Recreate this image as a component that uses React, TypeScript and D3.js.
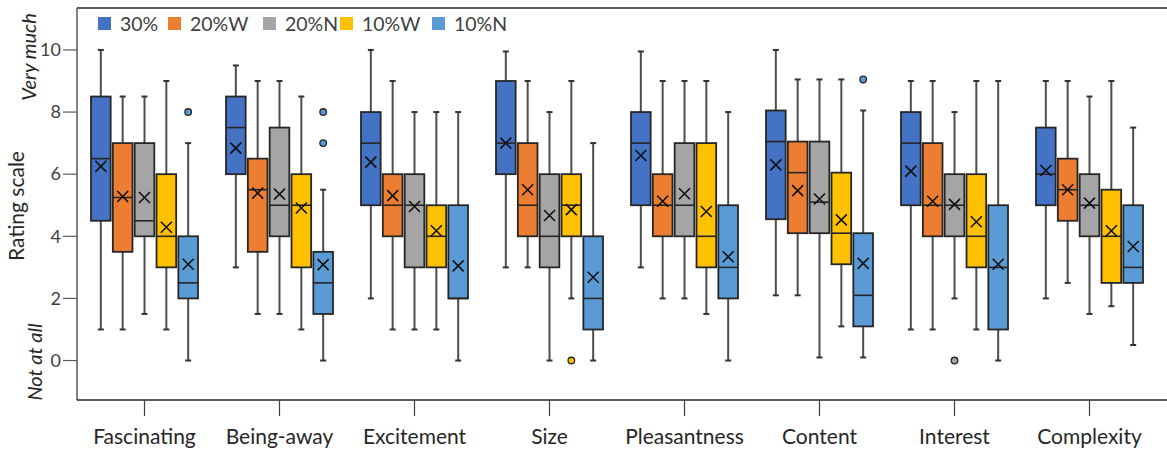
import * as d3 from 'd3'

const CATEGORIES = ['Fascinating', 'Being-away', 'Excitement', 'Size', 'Pleasantness', 'Content', 'Interest', 'Complexity']
const SERIES = ['30%', '20%W', '20%N', '10%W', '10%N']
const COLORS = ['#4472C4', '#ED7D31', '#A5A5A5', '#FFC000', '#5B9BD5']

// one row per series, one value per category
const WHISKER_HIGH = [
  [10, 9.5, 10, 9.95, 9.95, 10, 9, 9],
  [8.5, 9, 9, 9, 9, 9.05, 9, 9],
  [8.5, 9, 8, 8, 9, 9.05, 8, 8.5],
  [9, 8.5, 8, 9, 9, 9.05, 9, 9],
  [7, 5.5, 8, 7, 8, 8.05, 9, 7.5],
]
const Q3 = [
  [8.5, 8.5, 8, 9, 8, 8.05, 8, 7.5],
  [7, 6.5, 6, 7, 6, 7.05, 7, 6.5],
  [7, 7.5, 6, 6, 7, 7.05, 6, 6],
  [6, 6, 5, 6, 7, 6.05, 6, 5.5],
  [4, 3.5, 5, 4, 5, 4.1, 5, 5],
]
const MEDIAN = [
  [6.5, 7.5, 7, 7, 7, 7.05, 7, 6],
  [5.25, 5.5, 5, 5, 5, 6.05, 5, 5.5],
  [4.5, 5, 5, 4, 5, 5.1, 5, 5],
  [4, 5, 4, 5, 4, 4.1, 4, 4],
  [2.5, 2.5, 2, 2, 3, 2.1, 3, 3],
]
const Q1 = [
  [4.5, 6, 5, 6, 5, 4.55, 5, 5],
  [3.5, 3.5, 4, 4, 4, 4.1, 4, 4.5],
  [4, 4, 3, 3, 4, 4.1, 4, 4],
  [3, 3, 3, 4, 3, 3.1, 3, 2.5],
  [2, 1.5, 2, 1, 2, 1.1, 1, 2.5],
]
const WHISKER_LOW = [
  [1, 3, 2, 3, 3, 2.1, 1, 2],
  [1, 1.5, 1, 3, 2, 2.1, 1, 2.5],
  [1.5, 1.5, 1, 0, 2, 0.1, 2, 1.5],
  [1, 1, 1, 2, 1.5, 1.1, 1, 1.75],
  [0, 0, 0, 0, 0, 0.1, 0, 0.5],
]
const MEAN = [
  [6.25, 6.84, 6.39, 7.0, 6.6, 6.3, 6.1, 6.12],
  [5.28, 5.39, 5.31, 5.5, 5.13, 5.47, 5.13, 5.5],
  [5.25, 5.36, 4.96, 4.67, 5.37, 5.2, 5.03, 5.07],
  [4.29, 4.91, 4.18, 4.86, 4.8, 4.53, 4.47, 4.18],
  [3.1, 3.09, 3.05, 2.68, 3.34, 3.13, 3.1, 3.67],
]
// [series index, category index, value]
const OUTLIERS: [number, number, number][] = [
  [4, 0, 8],
  [4, 1, 8],
  [4, 1, 7],
  [3, 3, 0],
  [4, 5, 9.05],
  [2, 6, 0],
]
const Y_TICKS = [0, 2, 4, 6, 8, 10]

const W = 1167
const H = 450
const FONT = 'Lato, "Open Sans", sans-serif'
const LEGEND_X = [98, 168, 263, 340, 432]

export default function App() {
  const left = 77, top = 8, bottom = 400

  const x = d3.scaleBand().domain(CATEGORIES).range([left, 1157]).padding(0)
  const inner = d3.scaleBand().domain(SERIES).range([-53.5, 53.5]).paddingInner(0.1)
  const y = d3.scaleLinear().domain([-1.27, 11.35]).range([bottom, top])
  const bw = inner.bandwidth()
  const cap = 3

  const boxes = []
  SERIES.forEach((s, si) => {
    CATEGORIES.forEach((c, ci) => {
      const x0 = (x(c) as number) + x.bandwidth() / 2 + (inner(s) as number)
      const cx = x0 + bw / 2
      const mean = y(MEAN[si][ci])
      boxes.push(
        <g key={`${s}-${c}`}>
          <line x1={cx} x2={cx} y1={y(WHISKER_HIGH[si][ci])} y2={y(Q3[si][ci])} stroke="#4d4d4d" strokeWidth={2} />
          <line x1={cx} x2={cx} y1={y(Q1[si][ci])} y2={y(WHISKER_LOW[si][ci])} stroke="#4d4d4d" strokeWidth={2} />
          <line x1={cx - cap} x2={cx + cap} y1={y(WHISKER_HIGH[si][ci])} y2={y(WHISKER_HIGH[si][ci])} stroke="#333" strokeWidth={2} />
          <line x1={cx - cap} x2={cx + cap} y1={y(WHISKER_LOW[si][ci])} y2={y(WHISKER_LOW[si][ci])} stroke="#333" strokeWidth={2} />
          <rect x={x0} y={y(Q3[si][ci])} width={bw} height={y(Q1[si][ci]) - y(Q3[si][ci])}
            fill={COLORS[si]} stroke="#262626" strokeWidth={1.8} />
          <line x1={x0} x2={x0 + bw} y1={y(MEDIAN[si][ci])} y2={y(MEDIAN[si][ci])} stroke="#262626" strokeWidth={1.6} />
          <path d={`M${cx - 5.5},${mean - 5.5}L${cx + 5.5},${mean + 5.5}M${cx - 5.5},${mean + 5.5}L${cx + 5.5},${mean - 5.5}`}
            stroke="#111" strokeWidth={1.6} fill="none" />
        </g>
      )
    })
  })

  return (
    <svg width={W} height={H} style={{ position: 'fixed', left: 0, top: 0, background: '#fff' }} fontFamily={FONT}>
      {/* frame */}
      <line x1={left} x2={W} y1={top} y2={top} stroke="#262626" strokeWidth={1.5} />
      <line x1={left} x2={left} y1={top} y2={bottom} stroke="#595959" strokeWidth={1.5} />
      <line x1={left} x2={W} y1={bottom} y2={bottom} stroke="#262626" strokeWidth={1.5} />

      {/* y axis */}
      {Y_TICKS.map(t => (
        <g key={t}>
          <line x1={63} x2={left} y1={y(t)} y2={y(t)} stroke="#595959" strokeWidth={1.2} />
          <text x={61} y={y(t)} dy="0.35em" textAnchor="end" fontSize={18} fill="#404040">{t}</text>
        </g>
      ))}
      <text transform={`translate(24,206) rotate(-90)`} textAnchor="middle" fontSize={21} fill="#262626">Rating scale</text>
      <text transform={`translate(36,57) rotate(-90)`} textAnchor="middle" fontSize={20} fontStyle="italic" fill="#262626">Very much</text>
      <text transform={`translate(42,362) rotate(-90)`} textAnchor="middle" fontSize={20} fontStyle="italic" fill="#262626">Not at all</text>

      {/* x axis */}
      {CATEGORIES.map(c => {
        const cx = (x(c) as number) + x.bandwidth() / 2
        return (
          <g key={c}>
            <line x1={cx} x2={cx} y1={bottom} y2={416} stroke="#404040" strokeWidth={1.2} />
            <text x={cx} y={444} textAnchor="middle" fontSize={21} fill="#262626">{c}</text>
          </g>
        )
      })}

      {boxes}

      {OUTLIERS.map(([si, ci, v], i) => {
        const cx = (x(CATEGORIES[ci]) as number) + x.bandwidth() / 2 + (inner(SERIES[si]) as number) + bw / 2
        return <circle key={i} cx={cx} cy={y(v)} r={3.3} fill={COLORS[si]} stroke="#262626" strokeWidth={1.3} />
      })}

      {/* legend */}
      {SERIES.map((s, i) => (
        <g key={s}>
          <rect x={LEGEND_X[i]} y={17} width={13} height={13} fill={COLORS[i]} />
          <text x={LEGEND_X[i] + 22} y={30.5} fontSize={19.5} fill="#404040">{s}</text>
        </g>
      ))}
    </svg>
  )
}
